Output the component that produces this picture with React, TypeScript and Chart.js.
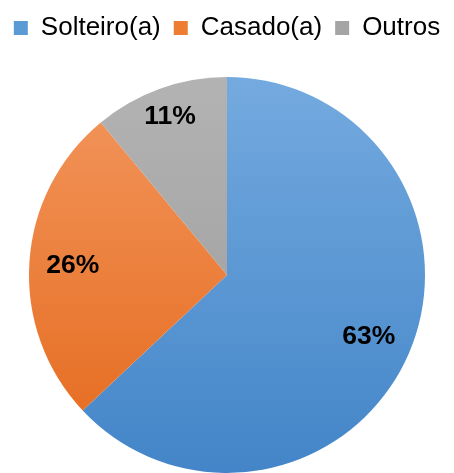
import React, { useEffect, useRef } from "react";
import { Chart, registerables } from "chart.js";

Chart.register(...registerables);

const categories = ["Solteiro(a)", "Casado(a)", "Outros"];
const values = [63, 26, 11];
const labelsText = ["63%", "26%", "11%"];
const topColors = ["#74aadf", "#f3975f", "#b3b3b3"];
const bottomColors = ["#4385c8", "#e4681a", "#999999"];
const legendColors = ["#5b9bd5", "#ed7d31", "#a5a5a5"];

const pieLabels = {
  id: "pieLabels",
  afterDatasetsDraw(chart: any) {
    const ctx = chart.ctx;
    const meta = chart.getDatasetMeta(0);
    ctx.save();
    ctx.fillStyle = "#000000";
    ctx.font = "bold 26.5px 'Liberation Sans', Arial, sans-serif";
    ctx.textAlign = "center";
    ctx.textBaseline = "middle";
    meta.data.forEach((arc: any, i: number) => {
      const { x, y, startAngle, endAngle, outerRadius } = arc.getProps(
        ["x", "y", "startAngle", "endAngle", "outerRadius"],
        true
      );
      const mid = (startAngle + endAngle) / 2;
      const frac = (endAngle - startAngle) / (Math.PI * 2);
      const r = outerRadius * (frac < 0.15 ? 0.85 : 0.78);
      ctx.fillText(labelsText[i], x + Math.cos(mid) * r, y + Math.sin(mid) * r);
    });
    ctx.restore();
  },
};

export default function App() {
  const ref = useRef<HTMLCanvasElement | null>(null);
  useEffect(() => {
    document.body.style.margin = "0";
    const canvas = ref.current!;
    const chart = new Chart(canvas, {
      type: "pie",
      data: {
        labels: categories,
        datasets: [
          {
            data: values,
            borderWidth: 0,
            backgroundColor: (c: any) => {
              const area = c.chart.chartArea;
              const i = c.dataIndex;
              if (!area || i === undefined) return legendColors[i ?? 0];
              const g = c.chart.ctx.createLinearGradient(0, area.top, 0, area.bottom);
              g.addColorStop(0, topColors[i]);
              g.addColorStop(1, bottomColors[i]);
              return g;
            },
          },
        ],
      },
      options: {
        responsive: false,
        animation: false,
        layout: { padding: { top: 2, left: 0, right: 0, bottom: 0 } },
        plugins: {
          legend: {
            position: "top",
            labels: {
              boxWidth: 14,
              boxHeight: 14,
              padding: 13,
              color: "#000000",
              font: { size: 26, family: "'Liberation Sans', Arial, sans-serif" },
              generateLabels: (chart: any) =>
                categories.map((t, i) => ({
                  text: t,
                  fillStyle: legendColors[i],
                  strokeStyle: legendColors[i],
                  lineWidth: 0,
                  hidden: false,
                  index: i,
                  fontColor: "#000000",
                })),
            },
          },
          title: {
            display: true,
            text: "",
            weight: 500,
            font: { size: 10 },
            padding: { top: 0, bottom: 14 },
          } as any,
          tooltip: { enabled: false },
        },
      },
      plugins: [pieLabels],
    });
    return () => chart.destroy();
  }, []);
  return (
    <div style={{ position: "absolute", left: 0, top: 0, width: 454, height: 473, background: "#ffffff" }}>
      <canvas ref={ref} width={454} height={473} style={{ display: "block" }} />
    </div>
  );
}
